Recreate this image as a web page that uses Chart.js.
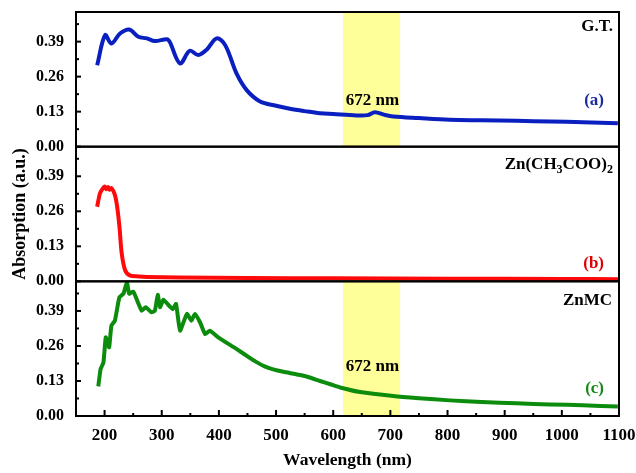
<!DOCTYPE html>
<html><head><meta charset="utf-8">
<script src="https://cdn.jsdelivr.net/npm/chart.js@4.4.1/dist/chart.umd.min.js"></script>
<style>html,body{margin:0;padding:0;background:#fff}</style>
</head><body>
<canvas id="c" width="636" height="473"></canvas>
<script>
// ---- data ----
const gtWave = [187,201,212,227,243,259,274,288,309,314,332,349,364,379,396,411,431,449,472,500,524,550,577,600,641,660,673,690,705,750,804,860,921,980,1037,1098];
const gtAbs  = [0.302,0.414,0.383,0.420,0.435,0.408,0.402,0.392,0.399,0.389,0.309,0.356,0.340,0.361,0.402,0.377,0.271,0.209,0.168,0.152,0.141,0.132,0.124,0.121,0.116,0.117,0.128,0.118,0.112,0.106,0.100,0.098,0.096,0.093,0.091,0.087];

const znWave = [187,192,197,200,203,206,209,212,218,222,226,230,236,244,260,274,332,450,600,800,1000,1100];
const znAbs  = [0.277,0.327,0.345,0.352,0.342,0.350,0.340,0.346,0.321,0.277,0.203,0.103,0.041,0.022,0.018,0.016,0.014,0.012,0.011,0.010,0.009,0.008];

const mcWave = [189,193,198,202,205,208,212,218,226,233,239,243,250,257,265,272,282,288,293,297,303,310,319,325,332,344,352,358,367,376,384,400,430,454,466,480,495,513,540,559,577,595,612,647,705,750,804,860,921,980,1037,1098];
const mcAbs  = [0.110,0.174,0.199,0.292,0.270,0.255,0.336,0.354,0.441,0.454,0.497,0.454,0.462,0.429,0.391,0.404,0.385,0.391,0.450,0.404,0.432,0.416,0.397,0.416,0.317,0.379,0.354,0.379,0.348,0.304,0.317,0.290,0.250,0.216,0.200,0.184,0.173,0.164,0.153,0.143,0.130,0.118,0.106,0.089,0.074,0.066,0.058,0.052,0.047,0.043,0.040,0.035];

const xTicks = [200,300,400,500,600,700,800,900,1000,1100];
const yTicks = [0.00,0.13,0.26,0.39];
const bandRange = [617,717];
const bandLabel = '672 nm';
const bandMark = 672;

// ---- styling ----
const SERIF = "'Liberation Serif','Times New Roman',serif";
const BLUE = '#0a1fbf', RED = '#ff0a0a', GREEN = '#0c8c0c';
const panelIds = ['ya','yb','yc'];

function pts(xs, ys){ return xs.map((x,i)=>({x:x, y:ys[i]})); }

const decor = {
  id:'decor',
  beforeDatasetsDraw(chart){
    const ctx = chart.ctx, xs = chart.scales.x;
    const x0 = xs.getPixelForValue(bandRange[0]), x1 = xs.getPixelForValue(bandRange[1]);
    ctx.save();
    ctx.fillStyle = '#ffff99';
    ['ya','yc'].forEach(id=>{
      const s = chart.scales[id];
      ctx.fillRect(x0, s.top, x1-x0, s.bottom-s.top);
    });
    ctx.restore();
  },
  afterDatasetsDraw(chart){
    const ctx = chart.ctx, xs = chart.scales.x, a = chart.chartArea;
    ctx.save();
    ctx.strokeStyle = '#000';
    ctx.lineWidth = 2;
    const seg = (x1,y1,x2,y2)=>{ctx.beginPath();ctx.moveTo(x1,y1);ctx.lineTo(x2,y2);ctx.stroke();};
    panelIds.forEach(id=>{
      const s = chart.scales[id];
      ctx.strokeRect(a.left, s.top, a.right-a.left, s.bottom-s.top);
      yTicks.forEach(v=>{ const y=s.getPixelForValue(v); seg(a.left, y, a.left+5, y); });
      yTicks.forEach(v=>{ const y=s.getPixelForValue(v+0.065); seg(a.left, y, a.left+3, y); });
    });
    xTicks.forEach(v=>{ const x=xs.getPixelForValue(v); seg(x, a.bottom, x, a.bottom-6); });
    xTicks.forEach(v=>{ const x=xs.getPixelForValue(v-50); seg(x, a.bottom, x, a.bottom-3); });

    // annotation texts
    ctx.textBaseline = 'middle';
    const F = 'bold 17px ' + SERIF;
    const txt = (t, x, y, align, color, font)=>{ ctx.font=font||F; ctx.fillStyle=color; ctx.textAlign=align; ctx.fillText(t,x,y); };
    const sa = chart.scales.ya, sb = chart.scales.yb, sc = chart.scales.yc;
    const bx = xs.getPixelForValue(bandMark) - 2;
    txt('G.T.', a.right-6, sa.top+15, 'right', '#000');
    txt('(a)', a.right-15, sa.bottom-46, 'right', '#1b2a9c');
    txt(bandLabel, bx, sa.bottom-46, 'center', '#000');
    txt('ZnMC', a.right-7, sc.top+19, 'right', '#000');
    txt('(c)', a.right-15, sc.bottom-27, 'right', '#138a13');
    txt(bandLabel, bx, sc.bottom-49, 'center', '#000');
    txt('(b)', a.right-15, sb.bottom-18, 'right', '#e00000');
    // Zn(CH3COO)2 with subscripts, right aligned
    const parts = [['Zn(CH',0],['3',1],['COO)',0],['2',1]];
    const SF = 'bold 12px ' + SERIF;
    let w = 0;
    parts.forEach(p=>{ ctx.font = p[1]?SF:F; w += ctx.measureText(p[0]).width; });
    let x = a.right-6 - w;
    const yb0 = sb.top+18;
    ctx.textAlign='left'; ctx.fillStyle='#000';
    parts.forEach(p=>{ ctx.font = p[1]?SF:F; ctx.fillText(p[0], x, p[1]? yb0+5 : yb0); x += ctx.measureText(p[0]).width; });
    ctx.restore();
  }
};

function yScale(weight, withTitle){
  return {
    type:'linear', position:'left', stack:'panels', stackWeight:1, weight:weight,
    min:0, max:0.5,
    afterBuildTicks: s=>{ s.ticks = yTicks.map(v=>({value:v})); },
    afterFit: s=>{ s.width = 76; s.paddingTop = 0; s.paddingBottom = 0; },
    grid:{display:false, drawTicks:false},
    border:{display:true, color:'#000', width:2},
    ticks:{ color:'#000', padding:12, font:{family:SERIF, size:16, weight:'bold'}, callback:v=>Number(v).toFixed(2) },
    title:{ display:withTitle, text:'Absorption (a.u.)', color:'#000', font:{family:SERIF, size:18, weight:'bold'}, padding:{top:10,bottom:0} }
  };
}

new Chart(document.getElementById('c'), {
  type:'line',
  data:{ datasets:[
    {label:'G.T.', data:pts(gtWave,gtAbs), yAxisID:'ya', borderColor:BLUE, borderWidth:4, pointRadius:0, tension:0.35, fill:false},
    {label:'Zn(CH3COO)2', data:pts(znWave,znAbs), yAxisID:'yb', borderColor:RED, borderWidth:4, pointRadius:0, tension:0.3, fill:false},
    {label:'ZnMC', data:pts(mcWave,mcAbs), yAxisID:'yc', borderColor:GREEN, borderWidth:4, pointRadius:0, tension:0.15, fill:false}
  ]},
  options:{
    responsive:false, animation:false, devicePixelRatio:1,
    layout:{ padding:{left:0, top:12, right:17, bottom:0} },
    plugins:{ legend:{display:false}, tooltip:{enabled:false} },
    scales:{
      x:{ type:'linear', position:'bottom', min:150, max:1100,
          afterBuildTicks: s=>{ s.ticks = xTicks.map(v=>({value:v})); },
          afterFit: s=>{ s.height = 57; s.paddingLeft = 0; s.paddingRight = 0; },
          grid:{display:false, drawTicks:false},
          border:{display:true, color:'#000', width:2},
          ticks:{ color:'#000', padding:9, maxRotation:0, autoSkip:false, font:{family:SERIF, size:17, weight:'bold'}, callback:v=>String(v) },
          title:{ display:true, text:'Wavelength (nm)', color:'#000', font:{family:SERIF, size:17.5, weight:'bold'}, padding:{top:0,bottom:2} }
      },
      ya: yScale(3, false),
      yb: yScale(2, true),
      yc: yScale(1, false)
    }
  },
  plugins:[decor]
});
</script>
</body></html>
